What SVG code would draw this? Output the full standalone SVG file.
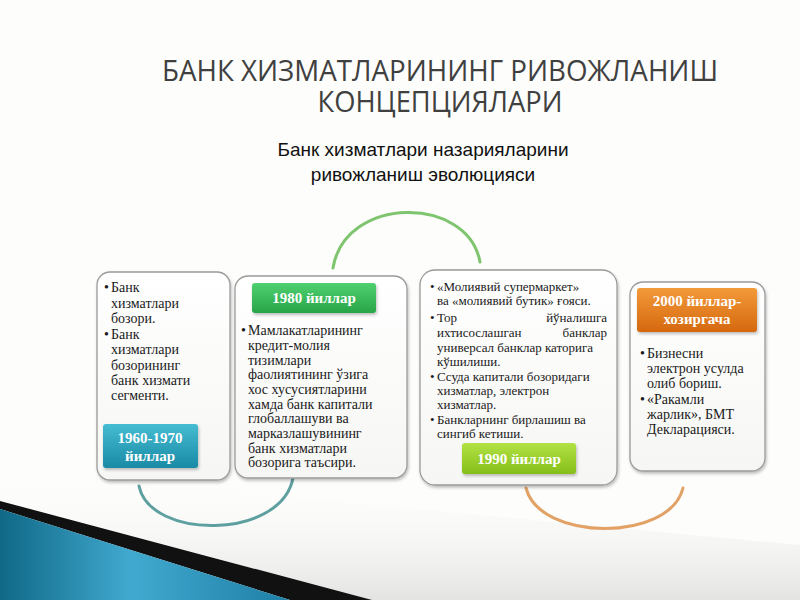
<svg xmlns="http://www.w3.org/2000/svg" width="800" height="600" viewBox="0 0 800 600">
<defs>
<linearGradient id="boxFill" x1="0" y1="0" x2="0" y2="1"><stop offset="0" stop-color="#ffffff"/><stop offset="1" stop-color="#f6f6f4"/></linearGradient>
<linearGradient id="gTeal" x1="0" y1="0" x2="0" y2="1"><stop offset="0" stop-color="#45bcd2"/><stop offset="1" stop-color="#1a8aa5"/></linearGradient>
<linearGradient id="gGreen" x1="0" y1="0" x2="0" y2="1"><stop offset="0" stop-color="#4fd070"/><stop offset="1" stop-color="#27a548"/></linearGradient>
<linearGradient id="gLime" x1="0" y1="0" x2="0" y2="1"><stop offset="0" stop-color="#b2e244"/><stop offset="1" stop-color="#85be1a"/></linearGradient>
<linearGradient id="gOrange" x1="0" y1="0" x2="0" y2="1"><stop offset="0" stop-color="#f39a3a"/><stop offset="1" stop-color="#d5680e"/></linearGradient>
<linearGradient id="gBlue" x1="0" y1="0" x2="1" y2="0"><stop offset="0" stop-color="#0f6886"/><stop offset="0.45" stop-color="#41a9cf"/><stop offset="1" stop-color="#1f7fa6"/></linearGradient>
<linearGradient id="gShade" x1="0" y1="0" x2="0" y2="1"><stop offset="0" stop-color="#ffffff" stop-opacity="0"/><stop offset="1" stop-color="#d8d8d8" stop-opacity="0.7"/></linearGradient>
<filter id="sh" x="-10%" y="-10%" width="130%" height="130%"><feDropShadow dx="1" dy="2" stdDeviation="1.5" flood-color="#000" flood-opacity="0.25"/></filter>
</defs>
<style>
.box{fill:url(#boxFill);stroke:#9a9a9a;stroke-width:1.3;filter:url(#sh)}
.lab{stroke:none;filter:url(#sh)}
.lt{font-family:"Liberation Serif","DejaVu Serif",serif;font-weight:bold;font-size:15px;fill:#ffffff;text-anchor:middle}
.bt{font-family:"Liberation Serif","DejaVu Serif",serif;font-size:14px;fill:#1a1a1a}
.bt3{font-family:"Liberation Serif","DejaVu Serif",serif;font-size:13px;fill:#1a1a1a}
.title{font-family:"Open Sans","DejaVu Sans",sans-serif;font-size:30px;fill:#404040;text-anchor:middle}
.sub{font-family:"Liberation Sans",Arial,sans-serif;font-size:19px;fill:#111;text-anchor:middle}
.arc{fill:none;stroke-width:3;stroke-linecap:round}
</style>
<rect width="800" height="600" fill="#fdfdfb"/>
<!-- background swoosh -->
<polygon points="0,470 800,545 800,600 370,600 0,500" fill="url(#gShade)"/>
<polygon points="0,501 372,600 290,600 0,509" fill="#111"/>
<polygon points="0,509 290,600 0,600" fill="url(#gBlue)"/>
<!-- titles -->
<text class="title" x="440" y="81" textLength="556" lengthAdjust="spacingAndGlyphs">БАНК ХИЗМАТЛАРИНИНГ РИВОЖЛАНИШ</text>
<text class="title" x="440" y="112" textLength="245" lengthAdjust="spacingAndGlyphs">КОНЦЕПЦИЯЛАРИ</text>
<text class="sub" x="423" y="156">Банк хизматлари назарияларини</text>
<text class="sub" x="423" y="181">ривожланиш эволюцияси</text>
<!-- connectors -->
<g id="connectors">
<path class="arc" stroke="#7fc46e" d="M333,268 C345,195 468,195 480,262"/>
<path class="arc" stroke="#5e9fa0" d="M139,486 C150,540 281,540 293,478"/>
<path class="arc" stroke="#e2a265" d="M526,488 C540,542 670,542 683,488"/>
</g>
<!-- node 1 -->
<g id="n1960">
<rect class="box" x="97" y="272" width="133" height="208" rx="13"/>
<text class="bt"><tspan x="104" y="292">•</tspan><tspan x="111" y="292">Банк</tspan><tspan x="111" y="308">хизматлари</tspan><tspan x="111" y="323">бозори.</tspan><tspan x="104" y="339">•</tspan><tspan x="111" y="339">Банк</tspan><tspan x="111" y="354">хизматлари</tspan><tspan x="111" y="370">бозорининг</tspan><tspan x="111" y="385">банк хизмати</tspan><tspan x="111" y="400">сегменти.</tspan></text>
<rect class="lab" x="103" y="424" width="95" height="44" rx="3" fill="url(#gTeal)"/>
<text class="lt"><tspan x="150" y="443">1960-1970</tspan><tspan x="150" y="461">йиллар</tspan></text>
</g>
<!-- node 2 -->
<g id="n1980">
<rect class="box" x="235" y="276" width="172" height="202" rx="13"/>
<rect class="lab" x="252" y="283" width="124" height="30" rx="3" fill="url(#gGreen)"/>
<text class="lt" x="314" y="303">1980 йиллар</text>
<text class="bt"><tspan x="241" y="335">•</tspan><tspan x="248" y="335">Мамлакатларининг</tspan><tspan x="248" y="350">кредит-молия</tspan><tspan x="248" y="365">тизимлари</tspan><tspan x="248" y="379">фаолиятининг ўзига</tspan><tspan x="248" y="394">хос хусусиятларини</tspan><tspan x="248" y="409">хамда банк капитали</tspan><tspan x="248" y="423">глобаллашуви ва</tspan><tspan x="248" y="438">марказлашувининг</tspan><tspan x="248" y="453">банк хизматлари</tspan><tspan x="248" y="467">бозорига таъсири.</tspan></text>
</g>
<!-- node 3 -->
<g id="n1990">
<rect class="box" x="420" y="270" width="197" height="215" rx="15"/>
<text class="bt3"><tspan x="430" y="291">•</tspan><tspan x="437" y="291">«Молиявий супермаркет»</tspan><tspan x="437" y="305">ва «молиявий бутик» ғояси.</tspan><tspan x="430" y="322">•</tspan><tspan x="437" y="322">Тор</tspan><tspan x="607" y="322" text-anchor="end">йўналишга</tspan><tspan x="437" y="337">ихтисослашган</tspan><tspan x="607" y="337" text-anchor="end">банклар</tspan><tspan x="437" y="352">универсал банклар каторига</tspan><tspan x="437" y="366">кўшилиши.</tspan><tspan x="430" y="381">•</tspan><tspan x="437" y="381">Ссуда капитали бозоридаги</tspan><tspan x="437" y="395">хизматлар, электрон</tspan><tspan x="437" y="409">хизматлар.</tspan><tspan x="430" y="424">•</tspan><tspan x="437" y="424">Банкларнинг бирлашиш ва</tspan><tspan x="437" y="438">сингиб кетиши.</tspan></text>
<rect class="lab" x="462" y="443" width="114" height="31" rx="3" fill="url(#gLime)"/>
<text class="lt" x="519" y="464">1990 йиллар</text>
</g>
<!-- node 4 -->
<g id="n2000">
<rect class="box" x="630" y="282" width="135" height="189" rx="13"/>
<rect class="lab" x="637" y="288" width="120" height="44" rx="3" fill="url(#gOrange)"/>
<text class="lt"><tspan x="697" y="306">2000 йиллар-</tspan><tspan x="697" y="324">хозиргача</tspan></text>
<text class="bt"><tspan x="640" y="358">•</tspan><tspan x="647" y="358">Бизнесни</tspan><tspan x="647" y="373">электрон усулда</tspan><tspan x="647" y="388">олиб бориш.</tspan><tspan x="640" y="404">•</tspan><tspan x="647" y="404">«Ракамли</tspan><tspan x="647" y="419">жарлик», БМТ</tspan><tspan x="647" y="434">Декларацияси.</tspan></text>
</g>
</svg>
